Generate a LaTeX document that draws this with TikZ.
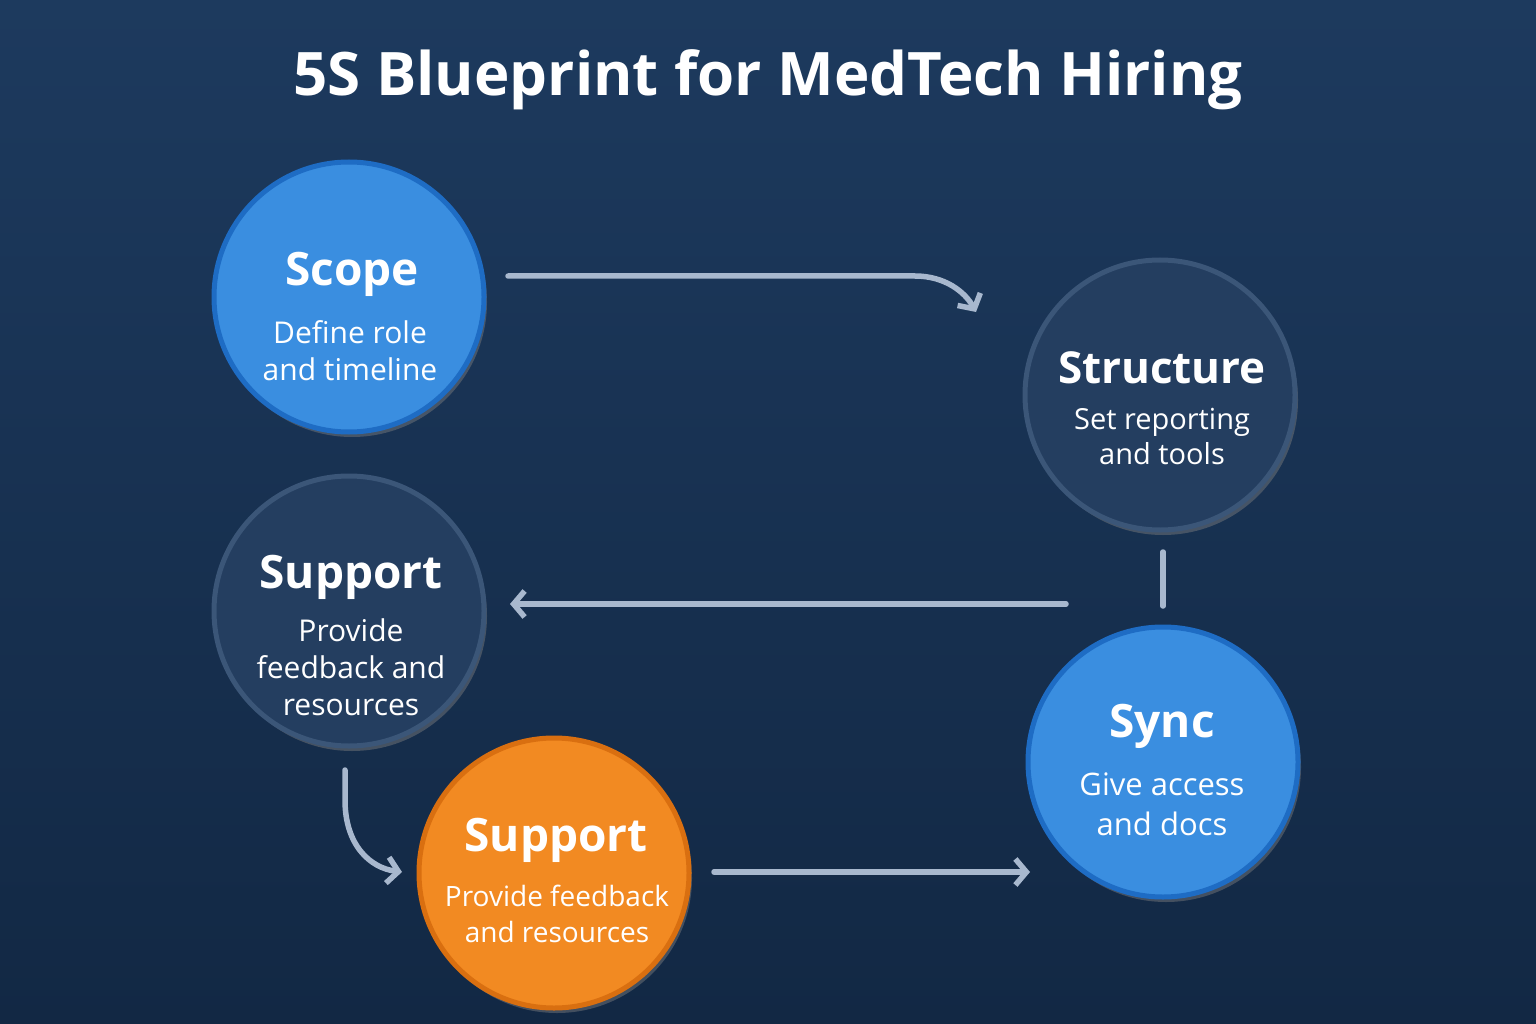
\documentclass[tikz,border=0pt]{standalone}
\usepackage{fontspec}
\setmainfont{Open Sans}
\usetikzlibrary{arrows.meta,shadows}
\definecolor{bgtop}{HTML}{1D3A5E}
\definecolor{bgbot}{HTML}{122844}
\definecolor{bluef}{HTML}{3A8EE0}
\definecolor{blued}{HTML}{1E6CC4}
\definecolor{navyf}{HTML}{243E60}
\definecolor{navyd}{HTML}{3B5678}
\definecolor{orgf}{HTML}{F28A22}
\definecolor{orgd}{HTML}{D96F10}
\definecolor{arr}{HTML}{A8B8CE}
\tikzset{
 circ/.style={circle, minimum size=270pt, line width=5pt, align=center, text=white, inner sep=0pt, drop shadow={opacity=0.45, shadow xshift=3pt, shadow yshift=-5pt}},
 bluec/.style={circ, fill=bluef, draw=blued},
 navyc/.style={circ, fill=navyf, draw=navyd},
 orgc/.style={circ, fill=orgf, draw=orgd},
 conn/.style={draw=arr, line width=5.5pt, line cap=round},
 arrc/.style={conn, -{Straight Barb[length=11pt,width=26pt,line width=5.5pt]}},
 hd/.style={font=\fontsize{46}{50}\selectfont\bfseries},
 sb/.style={font=\fontsize{30}{37}\selectfont},
}
\begin{document}
\begin{tikzpicture}[x=1pt,y=-1pt]
\shade[top color=bgtop, bottom color=bgbot] (0,0) rectangle (1536,1024);
\useasboundingbox (0,0) rectangle (1536,1024);
\node[text=white, font=\fontsize{60}{64}\selectfont\bfseries] (title) at (768,80) {5S Blueprint for MedTech Hiring};

\node[bluec] (scope) at (349,297) {};
\node[hd, text=white] at (352,274) {Scope};
\node[sb, text=white, align=center] at (350,351) {Define role\\and timeline};

\node[navyc] (structure) at (1160,395) {};
\node[hd, text=white, font=\fontsize{44}{48}\selectfont\bfseries] at (1162,368) {Structure};
\node[sb, text=white, align=center, font=\fontsize{29}{35}\selectfont] at (1162,436) {Set reporting\\and tools};

\node[navyc] (support1) at (349,611) {};
\node[hd, text=white] at (351,577) {Support};
\node[sb, text=white, align=center] at (351,667) {Provide\\feedback and\\resources};

\node[bluec] (sync) at (1163,762) {};
\node[hd, text=white] at (1162,726) {Sync};
\node[sb, text=white, align=center, font=\fontsize{31}{40}\selectfont] at (1162,804) {Give access\\and docs};

\node[orgc] (support2) at (554,873) {};
\node[hd, text=white] at (556,840) {Support};
\node[sb, text=white, align=center, font=\fontsize{28}{36}\selectfont] at (557,914) {Provide feedback\\and resources};

\coordinate (a1s) at (508,276);
\coordinate (a1m) at (915,276);
\coordinate (a1e) at (976,312);
\draw[arrc] (a1s) -- (a1m) .. controls (945,276) and (965,292) .. (a1e);

\coordinate (l2s) at (1163,552);
\coordinate (l2e) at (1163,606);
\draw[conn] (l2s) -- (l2e);

\coordinate (a3s) at (1066,604);
\coordinate (a3e) at (510,604);
\draw[arrc] (a3s) -- (a3e);

\coordinate (a4s) at (345,770);
\coordinate (a4e) at (402,872);
\draw[arrc] (a4s) -- (345,800) .. controls (345,845) and (370,868) .. (a4e);

\coordinate (a5s) at (714,872);
\coordinate (a5e) at (1030,872);
\draw[arrc] (a5s) -- (a5e);
\end{tikzpicture}
\end{document}
